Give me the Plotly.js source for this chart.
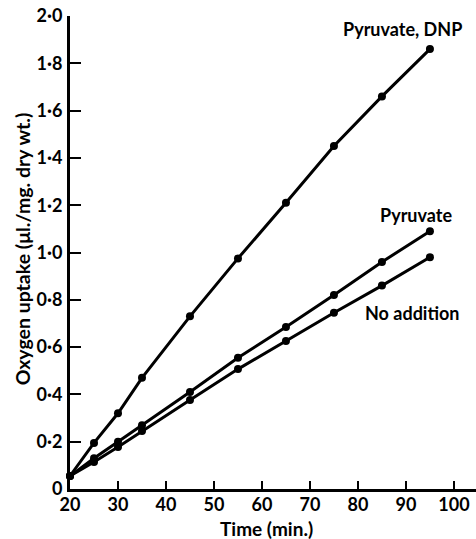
<!DOCTYPE html>
<html>
<head>
<meta charset="utf-8">
<script src="https://cdn.plot.ly/plotly-3.0.1.min.js"></script>
<style>html,body{margin:0;padding:0;background:#fff;}#chart{width:476px;height:539px;}</style>
</head>
<body>
<div id="chart"></div>
<script>
var time = [20, 25, 30, 35, 45, 55, 65, 75, 85, 95];
var pyruvateDNP = [0.055, 0.195, 0.32, 0.47, 0.73, 0.975, 1.21, 1.45, 1.66, 1.86];
var pyruvate = [0.055, 0.13, 0.20, 0.27, 0.41, 0.555, 0.685, 0.82, 0.96, 1.09];
var noAddition = [0.055, 0.114, 0.178, 0.245, 0.376, 0.507, 0.626, 0.745, 0.86, 0.98];
var seriesNames = ["Pyruvate, DNP", "Pyruvate", "No addition"];
var xTickVals = [20, 30, 40, 50, 60, 70, 80, 90, 100];
var xTickText = ["20", "30", "40", "50", "60", "70", "80", "90", "100"];
var yTickVals = [0, 0.2, 0.4, 0.6, 0.8, 1.0, 1.2, 1.4, 1.6, 1.8, 2.0];
var yTickText = ["0", "0·2", "0·4", "0·6", "0·8", "1·0", "1·2", "1·4", "1·6", "1·8", "2·0"];

var FONT = "Lato, 'Open Sans', sans-serif";
function tr(y, name) {
  return {x: time, y: y, name: name, type: "scatter", mode: "lines+markers",
    line: {color: "#000", width: 3}, marker: {color: "#000", size: 8}, showlegend: false, cliponaxis: false};
}
var data = [tr(pyruvateDNP, seriesNames[0]), tr(pyruvate, seriesNames[1]), tr(noAddition, seriesNames[2])];

var lblFont = {family: FONT, size: 18, weight: "bold", color: "#000"};
var layout = {
  width: 476, height: 539,
  margin: {l: 70, r: 0, t: 16, b: 50},
  paper_bgcolor: "#fff", plot_bgcolor: "#fff",
  font: {family: FONT, size: 18, color: "#000", weight: "bold"},
  xaxis: {range: [20, 104.6], tickvals: xTickVals, ticktext: xTickText,
    ticks: "inside", ticklen: 8, tickwidth: 2, tickcolor: "#000",
    showline: true, linewidth: 3, linecolor: "#000", showgrid: false, zeroline: false,
    tickfont: {family: FONT, size: 18, weight: "bold"}, ticklabelstandoff: -3},
  yaxis: {range: [0, 2.0], tickvals: yTickVals, ticktext: yTickText,
    ticks: "inside", ticklen: 11, tickwidth: 2, tickcolor: "#000",
    showline: true, linewidth: 3, linecolor: "#000", showgrid: false, zeroline: false,
    tickfont: {family: FONT, size: 18, weight: "bold"}, ticklabelstandoff: 1},
  annotations: [
    {text: "Oxygen uptake (μl./mg. dry wt.)", xref: "paper", yref: "paper", x: -0.118, y: 0.507,
     xanchor: "center", yanchor: "middle", textangle: -90, showarrow: false,
     font: {family: FONT, size: 19.5, weight: "bold", color: "#000"}},
    {text: "Time (min.)", xref: "paper", yref: "paper", x: 0.483, y: -0.084,
     xanchor: "center", yanchor: "middle", showarrow: false,
     font: {family: FONT, size: 19, weight: "bold", color: "#000"}},
    {text: seriesNames[0], xref: "x", yref: "y", x: 89.2, y: 1.947, xanchor: "center", yanchor: "middle",
     showarrow: false, font: lblFont},
    {text: seriesNames[1], xref: "x", yref: "y", x: 92.1, y: 1.16, xanchor: "center", yanchor: "middle",
     showarrow: false, font: lblFont},
    {text: seriesNames[2], xref: "x", yref: "y", x: 91.3, y: 0.745, xanchor: "center", yanchor: "middle",
     showarrow: false, font: lblFont}
  ]
};
Plotly.newPlot("chart", data, layout, {displayModeBar: false, staticPlot: true});
</script>
</body>
</html>
